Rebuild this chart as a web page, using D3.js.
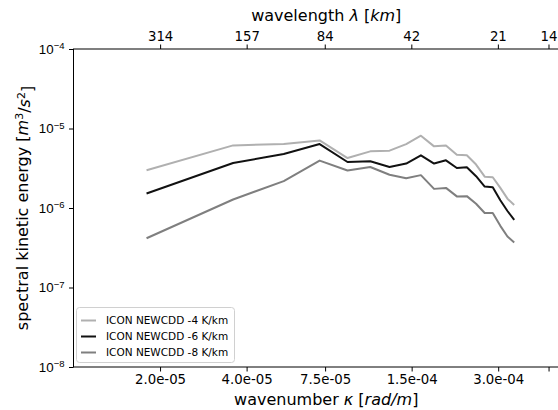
<!DOCTYPE html>
<html><head><meta charset="utf-8">
<script src="https://cdn.jsdelivr.net/npm/d3@7"></script>
<style>
html,body{margin:0;padding:0;background:#fff;}
svg{display:block;font-family:"DejaVu Sans",sans-serif;}
</style></head>
<body><svg id="c" width="558" height="410"></svg>
<script>
// wavenumber (rad/m)
const wavenumber = [1.795e-5,3.59e-5,5.385e-5,7.18e-5,8.975e-5,1.077e-4,1.2565e-4,1.436e-4,1.6155e-4,1.795e-4,1.9745e-4,2.154e-4,2.3335e-4,2.513e-4,2.6925e-4,2.872e-4,3.0515e-4,3.231e-4,3.4105e-4];
const series4 = [2.99e-6,6.13e-6,6.37e-6,7.08e-6,4.25e-6,5.16e-6,5.26e-6,6.37e-6,8.11e-6,5.96e-6,6.13e-6,4.66e-6,4.60e-6,3.52e-6,2.48e-6,2.44e-6,1.79e-6,1.31e-6,1.09e-6];
const series6 = [1.52e-6,3.68e-6,4.77e-6,6.37e-6,3.79e-6,3.87e-6,3.28e-6,3.62e-6,4.60e-6,3.62e-6,3.98e-6,3.19e-6,3.25e-6,2.51e-6,1.86e-6,1.83e-6,1.25e-6,9.17e-7,7.08e-7];
const series8 = [4.16e-7,1.28e-6,2.18e-6,3.95e-6,2.96e-6,3.28e-6,2.62e-6,2.37e-6,2.59e-6,1.74e-6,1.79e-6,1.40e-6,1.41e-6,1.13e-6,8.66e-7,8.66e-7,5.96e-7,4.38e-7,3.68e-7];
const seriesNames = ["ICON NEWCDD -4 K/km","ICON NEWCDD -6 K/km","ICON NEWCDD -8 K/km"];
const seriesColors = ["#b0b0b0","#111111","#7f7f7f"];
const xTickValues = [2.0e-5,4.0e-5,7.5e-5,1.5e-4,3.0e-4,4.49e-4];
const xTickLabels = ["2.0e-05","4.0e-05","7.5e-05","1.5e-04","3.0e-04",""];
const lambdaTicks = [314,157,84,42,21,14];
const yTickExps = [-4,-5,-6,-7,-8];

const svg = d3.select("#c");
const L = 73.5, R = 579, T = 49, B = 367;
const x = d3.scaleLog().domain([1e-5, 5.73e-4]).range([L, R]);
const y = d3.scaleLog().domain([1e-8, 1e-4]).range([B, T]);
const tickFont = "13.3px";
const tk = 4.5, pad = 4.5;

// spines
const g = svg.append("g");
g.append("rect").attr("x",L).attr("y",T).attr("width",R-L).attr("height",B-T)
  .attr("fill","none").attr("stroke","#000").attr("stroke-width",1);

// bottom axis
const xb = g.append("g").attr("transform",`translate(0,${B})`)
  .call(d3.axisBottom(x).tickValues(xTickValues).tickFormat((d,i)=>xTickLabels[i]).tickSize(tk).tickPadding(pad-1));
xb.select(".domain").remove();
xb.selectAll("text").attr("font-size",tickFont).attr("font-family","DejaVu Sans").attr("fill","#000");

// top axis (wavelength)
const xt = g.append("g").attr("transform",`translate(0,${T})`)
  .call(d3.axisTop(x).tickValues(lambdaTicks.map(l=>2*Math.PI/(l*1000))).tickFormat((d,i)=>String(lambdaTicks[i])).tickSize(tk).tickPadding(pad-1));
xt.select(".domain").remove();
xt.selectAll("text").attr("font-size",tickFont).attr("font-family","DejaVu Sans").attr("fill","#000");

// left axis
const yl = g.append("g").attr("transform",`translate(${L},0)`)
  .call(d3.axisLeft(y).tickValues(yTickExps.map(e=>Math.pow(10,e))).tickFormat("").tickSize(tk));
yl.select(".domain").remove();
yl.selectAll(".tick").each(function(d,i){
  const t = d3.select(this).append("text").attr("x",-(tk+pad)).attr("dy","0.32em")
    .attr("text-anchor","end").attr("font-size",tickFont).attr("fill","#000");
  t.append("tspan").text("10");
  t.append("tspan").attr("dy","-0.5em").attr("font-size","9.5px").text("\u2212"+Math.abs(yTickExps[i]));
});

// axis labels
const bl = svg.append("text").attr("x",(L+R)/2).attr("y",405).attr("text-anchor","middle").attr("font-size","16px");
bl.append("tspan").text("wavenumber ");
bl.append("tspan").attr("font-style","italic").text("\u03ba");
bl.append("tspan").text(" [");
bl.append("tspan").attr("font-style","italic").text("rad/m");
bl.append("tspan").text("]");

const tl = svg.append("text").attr("x",(L+R)/2).attr("y",21).attr("text-anchor","middle").attr("font-size","16px");
tl.append("tspan").text("wavelength ");
tl.append("tspan").attr("font-style","italic").text("\u03bb");
tl.append("tspan").text(" [");
tl.append("tspan").attr("font-style","italic").text("km");
tl.append("tspan").text("]");

const yLab = svg.append("text").attr("transform",`translate(28,${(T+B)/2}) rotate(-90)`)
  .attr("text-anchor","middle").attr("font-size","16px");
yLab.append("tspan").text("spectral kinetic energy [");
yLab.append("tspan").attr("font-style","italic").text("m");
yLab.append("tspan").attr("dy","-0.45em").attr("font-size","11px").text("3");
yLab.append("tspan").attr("dy","0.45em").text("/");
yLab.append("tspan").attr("font-style","italic").text("s");
yLab.append("tspan").attr("dy","-0.45em").attr("font-size","11px").text("2");
yLab.append("tspan").attr("dy","0.45em").text("]");

// lines
const allSeries = [series4, series6, series8];
const line = d3.line().x((d,i)=>x(wavenumber[i])).y(d=>y(d));
allSeries.forEach((s,j)=>{
  svg.append("path").datum(s).attr("d",line).attr("fill","none")
    .attr("stroke",seriesColors[j]).attr("stroke-width",2).attr("stroke-linejoin","round");
});

// legend
const lg = svg.append("g");
lg.append("rect").attr("x",76.5).attr("y",307.5).attr("width",158).attr("height",55).attr("rx",3)
  .attr("fill","#fff").attr("fill-opacity",0.8).attr("stroke","#d0d0d0");
seriesNames.forEach((n,j)=>{
  const yy = 320.5 + j*16;
  lg.append("line").attr("x1",81).attr("x2",96).attr("y1",yy).attr("y2",yy)
    .attr("stroke",seriesColors[j]).attr("stroke-width",2);
  lg.append("text").attr("x",106).attr("y",yy).attr("dy","0.35em").attr("font-size","10.5px").text(n);
});
</script></body></html>
